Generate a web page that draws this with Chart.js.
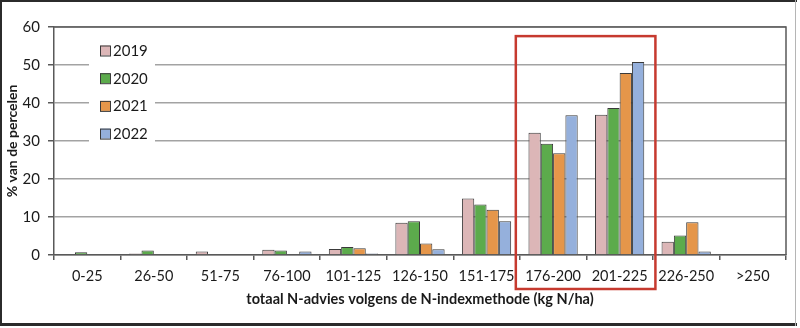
<!DOCTYPE html>
<html>
<head>
<meta charset="utf-8">
<script src="https://cdn.jsdelivr.net/npm/chart.js@4/dist/chart.umd.min.js"></script>
<style>
  html, body { margin: 0; padding: 0; background: #fff; }
  #wrap { width: 800px; height: 328px; position: relative; }
</style>
</head>
<body>
<div id="wrap"><canvas id="c" width="800" height="328"></canvas></div>
<script>
// N-advice classes (kg N/ha)
const categories = ['0-25', '26-50', '51-75', '76-100', '101-125', '126-150', '151-175', '176-200', '201-225', '226-250', '>250'];
const years = ['2019', '2020', '2021', '2022'];

// share of parcels (%) per class
const values2019 = [0, 0.4, 0.9, 1.4, 1.6, 8.5, 14.9, 32.2, 36.9, 3.5, 0];
const values2020 = [0.7, 1.2, 0, 1.2, 2.1, 8.9, 13.3, 29.3, 38.7, 5.1, 0];
const values2021 = [0, 0, 0, 0, 1.8, 3.0, 11.9, 26.8, 47.9, 8.6, 0];
const values2022 = [0, 0, 0, 0.9, 0.4, 1.5, 8.9, 36.8, 50.8, 0.9, 0];

const yTicks = [0, 10, 20, 30, 40, 50, 60];

const colors = ['#dcb6b7', '#5cab4c', '#e5964a', '#95b0dc'];
const series = [values2019, values2020, values2021, values2022];

const FONT = 'Lato, "Open Sans", sans-serif';
const AXIS = '#595959';

const datasets = years.map((yr, i) => ({
  label: yr,
  data: series[i],
  backgroundColor: colors[i],
  borderColor: '#3a3a3a',
  borderWidth: ctx => (ctx.raw > 0 ? 1 : 0),
  borderSkipped: 'bottom',
  categoryPercentage: 0.74,
  barPercentage: 1.0
}));

// plot frame, legend panel, highlight box and outer border
const decorations = {
  id: 'decorations',
  beforeDatasetsDraw(chart) {
    const { ctx, chartArea: a } = chart;
    ctx.save();
    // top and right edges of the plot area
    ctx.strokeStyle = AXIS;
    ctx.lineWidth = 1.5;
    ctx.beginPath();
    ctx.moveTo(a.left, a.top);
    ctx.lineTo(a.right, a.top);
    ctx.lineTo(a.right, a.bottom);
    ctx.stroke();

    // legend panel
    ctx.fillStyle = '#fff';
    ctx.fillRect(89, 36, 66, 111);
    const rowY = [50.5, 78.2, 105.9, 133.6];
    ctx.font = '15px ' + FONT;
    ctx.textBaseline = 'middle';
    ctx.textAlign = 'left';
    chart.data.datasets.forEach((ds, i) => {
      const y = rowY[i];
      ctx.fillStyle = ds.backgroundColor;
      ctx.fillRect(100, y - 5, 10, 10);
      ctx.strokeStyle = '#3a3a3a';
      ctx.lineWidth = 1;
      ctx.strokeRect(100.5, y - 4.5, 10, 10);
      ctx.fillStyle = '#1a1a1a';
      ctx.fillText(ds.label, 113, y + 0.5);
    });
    ctx.restore();
  },
  afterDraw(chart) {
    const { ctx, chartArea: a, scales: { x, y } } = chart;
    ctx.save();
    // highlight around 176-200 and 201-225
    const half = (x.getPixelForValue(1) - x.getPixelForValue(0)) / 2;
    const left = x.getPixelForValue(7) - half - 4;
    const right = x.getPixelForValue(8) + half + 2.5;
    const top = y.getPixelForValue(57.6);
    const bottom = a.bottom + 34;
    ctx.strokeStyle = '#c63a2f';
    ctx.lineWidth = 2.5;
    ctx.strokeRect(left, top, right - left, bottom - top);

    // outer border
    ctx.strokeStyle = '#2b2b2b';
    ctx.lineWidth = 2;
    ctx.beginPath();
    ctx.moveTo(1, 0); ctx.lineTo(1, 326);
    ctx.moveTo(0, 1); ctx.lineTo(797, 1);
    ctx.stroke();
    ctx.lineWidth = 3;
    ctx.beginPath();
    ctx.moveTo(0, 324.5); ctx.lineTo(797, 324.5);
    ctx.stroke();
    ctx.strokeStyle = '#b5b5b5';
    ctx.lineWidth = 1;
    ctx.beginPath();
    ctx.moveTo(795.5, 0); ctx.lineTo(795.5, 326);
    ctx.stroke();
    ctx.restore();
  }
};

new Chart(document.getElementById('c'), {
  type: 'bar',
  data: { labels: categories, datasets },
  options: {
    responsive: false,
    animation: false,
    devicePixelRatio: 1,
    layout: { padding: { top: 27, right: 14, left: 0, bottom: 0 } },
    plugins: { legend: { display: false }, tooltip: { enabled: false } },
    scales: {
      x: {
        afterFit: s => { s.height = 73; },
        grid: { drawOnChartArea: false, offset: true, tickColor: AXIS, tickLength: 5, lineWidth: 1.5 },
        border: { color: AXIS, width: 1.5 },
        ticks: { color: '#1a1a1a', font: { family: FONT, size: 14.5 }, padding: 8, maxRotation: 0, autoSkip: false },
        title: {
          display: true,
          text: 'totaal N-advies volgens de N-indexmethode (kg N/ha)',
          color: '#1a1a1a',
          font: { family: FONT, size: 14.5, weight: 'bold' },
          padding: { top: 4, bottom: 20 }
        }
      },
      y: {
        min: 0,
        max: 60,
        afterFit: s => { s.width = 54; },
        afterBuildTicks: s => { s.ticks = yTicks.map(v => ({ value: v })); },
        grid: { color: '#a3a3a3', lineWidth: 1.5, tickColor: AXIS, tickLength: 6 },
        border: { color: AXIS, width: 1.5 },
        ticks: { color: '#1a1a1a', font: { family: FONT, size: 15 }, padding: 8 },
        title: {
          display: true,
          text: '% van de percelen',
          color: '#1a1a1a',
          font: { family: FONT, size: 14, weight: 'bold' },
          padding: { top: 4, bottom: 0 }
        }
      }
    }
  },
  plugins: [decorations]
});
</script>
</body>
</html>
